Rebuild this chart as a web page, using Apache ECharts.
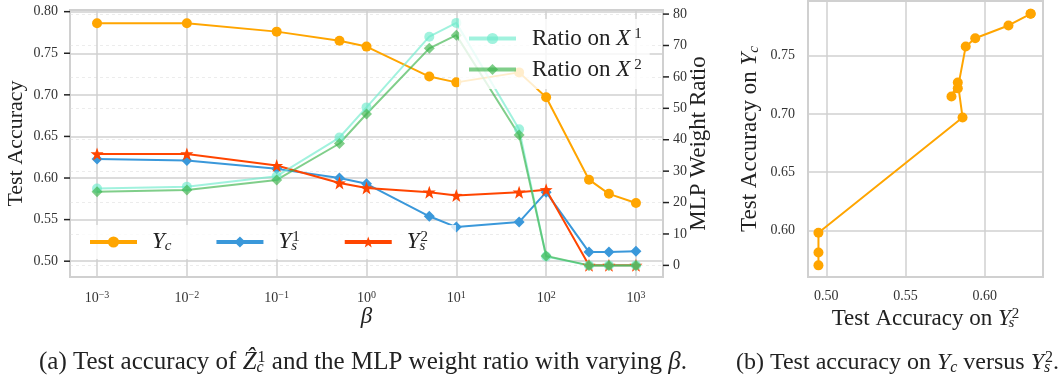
<!DOCTYPE html>
<html>
<head>
<meta charset="utf-8">
<script src="https://cdn.jsdelivr.net/npm/echarts@6/dist/echarts.min.js"></script>
<style>
  html, body { margin: 0; background: #fff; }
  #chart { width: 1062px; height: 388px; }
</style>
</head>
<body>
<div id="chart"></div>
<script>
const betas = [0.001, 0.01, 0.1, 0.5, 1, 5, 10, 50, 100, 300, 500, 1000]
const accYc = [0.786, 0.786, 0.776, 0.765, 0.758, 0.722, 0.715, 0.727, 0.697, 0.598, 0.581, 0.570]
const accYs1 = [0.623, 0.621, 0.611, 0.600, 0.593, 0.554, 0.541, 0.547, 0.583, 0.511, 0.511, 0.512]
const accYs2 = [0.629, 0.629, 0.615, 0.594, 0.588, 0.583, 0.579, 0.583, 0.586, 0.495, 0.495, 0.495]
const ratioX1 = [24.5, 25.0, 28.4, 40.7, 50.3, 72.8, 77.2, 43.3, 2.8, 0, 0, 0]
const ratioX2 = [23.4, 24.0, 27.2, 38.8, 48.2, 69.1, 73.3, 41.5, 3.0, 0, 0, 0]

// tick labels
const accTicks = [0.5, 0.55, 0.6, 0.65, 0.7, 0.75, 0.8]
const ratioTicks = [0, 10, 20, 30, 40, 50, 60, 70, 80]
const ysTicks = [0.5, 0.55, 0.6]
const ycTicks = [0.6, 0.65, 0.7, 0.75]

const SERIF = 'Liberation Serif'
const GRID = '#d0d0d0'
const BETA_MIN = 0.0005
const BETA_MAX = 2000

const chart = echarts.init(document.getElementById('chart'))

const pair = (xs, ys) => xs.map((x, i) => [x, ys[i]])

// math-ish rich text pieces
const mathRich = (big, small) => ({
  i: { fontFamily: SERIF, fontStyle: 'italic', fontSize: big, color: '#222' },
  sub: { fontFamily: SERIF, fontStyle: 'italic', fontSize: small, color: '#222', verticalAlign: 'bottom', padding: [small * 0.6, 0, 0, 0] },
  ss: { fontFamily: SERIF, fontStyle: 'italic', fontSize: small, color: '#222', verticalAlign: 'bottom', padding: [small * 0.6, 0, 0, 0], width: 1 },
  sup: { fontFamily: SERIF, fontSize: small, color: '#222', verticalAlign: 'top', padding: [0, 0, small * 0.5, 0] },
  t: { fontFamily: SERIF, fontSize: big, color: '#222' },
})

const legendNames = {
  'Y_c': '{i|Y}{sub|c}',
  'Y_s^1': '{i|Y}{ss|s}{sup|1}',
  'Y_s^2': '{i|Y}{ss|s}{sup|2}',
  'Ratio on X^1': '{t|Ratio on }{i|X}{sup| 1}',
  'Ratio on X^2': '{t|Ratio on }{i|X}{sup| 2}',
}

// tick dash carried inside the axis label, since plain axis ticks do not show up
const tickRich = {
  n: { fontFamily: SERIF, fontSize: 14, color: '#333' },
  gap: { width: 6, height: 2 },
  tk: { width: 6, height: 1.5, backgroundColor: '#222' },
}

const lineSeries = (name, data, yIdx, color, symbol, size) => ({
  name,
  type: 'line',
  xAxisIndex: 0,
  yAxisIndex: yIdx,
  data,
  symbol,
  symbolSize: size,
  lineStyle: { color, width: 2 },
  itemStyle: { color },
})

const option = {
  animation: false,
  textStyle: { fontFamily: SERIF },
  grid: [
    { left: 70, right: 399, top: 10, bottom: 111, show: true, borderColor: GRID, borderWidth: 2, outerBoundsMode: 'none', containLabel: false },
    { left: 808, right: 19, top: 1, bottom: 111, show: true, borderColor: GRID, borderWidth: 2, outerBoundsMode: 'none', containLabel: false },
  ],
  xAxis: [
    {
      type: 'log',
      gridIndex: 0,
      min: BETA_MIN,
      max: BETA_MAX,
      name: 'β',
      nameLocation: 'middle',
      nameGap: 28,
      nameMoveOverlap: false,
      nameTextStyle: { fontFamily: SERIF, fontStyle: 'italic', fontSize: 23, color: '#222' },
      axisLine: { show: false },
      axisTick: { show: false },
      splitLine: { show: true, lineStyle: { color: GRID, width: 1.5 } },
      axisLabel: {
        margin: 13,
        showMinLabel: false,
        showMaxLabel: false,
        formatter: (v) => {
          const e = Math.round(Math.log10(v))
          return '{b|10}{e|' + (e < 0 ? '−' : '') + Math.abs(e) + '}'
        },
        rich: {
          b: { fontFamily: SERIF, fontSize: 14, color: '#333' },
          e: { fontFamily: SERIF, fontSize: 10, color: '#333', verticalAlign: 'top', padding: [0, 0, 6, 0] },
        },
      },
    },
    {
      type: 'value',
      gridIndex: 1,
      min: 0.4884,
      max: 0.6368,
      name: 'Test Accuracy on {i|Y}{ss|s}{sup|2}',
      nameLocation: 'middle',
      nameGap: 30,
      nameMoveOverlap: false,
      nameTextStyle: { fontFamily: SERIF, fontSize: 23, color: '#222', rich: mathRich(23, 15) },
      axisLine: { show: false },
      axisTick: { show: false, customValues: ysTicks },
      splitLine: { show: true, lineStyle: { color: GRID, width: 1.5 } },
      axisLabel: {
        customValues: ysTicks,
        margin: 12,
        fontFamily: SERIF,
        fontSize: 14,
        color: '#333',
        formatter: (v) => v.toFixed(2),
      },
    },
  ],
  yAxis: [
    {
      type: 'value',
      gridIndex: 0,
      min: 0.481,
      max: 0.802,
      name: 'Test Accuracy',
      nameLocation: 'middle',
      nameGap: 43,
      nameMoveOverlap: false,
      nameTextStyle: { fontFamily: SERIF, fontSize: 22, color: '#222' },
      axisLine: { show: false },
      axisTick: { show: false, customValues: accTicks },
      splitLine: { show: true, lineStyle: { color: GRID, width: 1.5 } },
      axisLabel: {
        customValues: accTicks,
        margin: 0,
        formatter: (v) => '{n|' + v.toFixed(2) + '}{gap|}{tk|}',
        rich: tickRich,
      },
    },
    {
      type: 'value',
      gridIndex: 0,
      position: 'right',
      min: -3.7,
      max: 81.3,
      name: 'MLP Weight Ratio',
      nameLocation: 'middle',
      nameRotate: 90,
      nameGap: 24,
      nameMoveOverlap: false,
      nameTextStyle: { fontFamily: SERIF, fontSize: 23, color: '#222' },
      axisLine: { show: false },
      axisTick: { show: false, customValues: ratioTicks },
      splitLine: { show: true, lineStyle: { color: '#ececec', width: 1, type: [3, 3] } },
      axisLabel: {
        customValues: ratioTicks,
        margin: 0,
        formatter: (v) => '{tk|}{gap|}{n|' + v + '}',
        rich: Object.assign({}, tickRich, { gap: { width: 4, height: 2 } }),
      },
    },
    {
      type: 'value',
      gridIndex: 1,
      min: 0.56,
      max: 0.797,
      name: 'Test Accuracy on {i|Y}{sub|c}',
      nameLocation: 'middle',
      nameGap: 46,
      nameMoveOverlap: false,
      nameTextStyle: { fontFamily: SERIF, fontSize: 23, color: '#222', rich: mathRich(23, 15) },
      axisLine: { show: false },
      axisTick: { show: false, customValues: ycTicks },
      splitLine: { show: true, lineStyle: { color: GRID, width: 1.5 } },
      axisLabel: { customValues: ycTicks, margin: 13, fontFamily: SERIF, fontSize: 14, color: '#333', formatter: (v) => v.toFixed(2) },
    },
  ],
  legend: [
    {
      data: ['Y_c', 'Y_s^1', 'Y_s^2'],
      left: 80,
      top: 225,
      padding: [5, 28, 5, 8],
      itemWidth: 47,
      itemHeight: 14,
      itemGap: 43,
      backgroundColor: 'rgba(255,255,255,0.8)',
      lineStyle: { width: 4 },
      formatter: (n) => legendNames[n],
      textStyle: { padding: [0, 0, 0, 10], rich: mathRich(23, 15) },
    },
    {
      data: ['Ratio on X^1', 'Ratio on X^2'],
      orient: 'vertical',
      left: 459,
      top: 19,
      padding: [8, 8, 8, 8],
      itemWidth: 47,
      itemHeight: 14,
      itemGap: 8,
      backgroundColor: 'rgba(255,255,255,0.8)',
      lineStyle: { width: 4 },
      formatter: (n) => legendNames[n],
      textStyle: { padding: [0, 0, 0, 11], rich: mathRich(23, 15) },
    },
  ],
  series: [
    lineSeries('Y_c', pair(betas, accYc), 0, '#FFA500', 'circle', 10),
    lineSeries('Y_s^1', pair(betas, accYs1), 0, '#3A98DA', 'diamond', 11),
    lineSeries('Y_s^2', pair(betas, accYs2), 0, '#FF4500', 'path://M0,-10L2.35,-3.24L9.51,-3.09L3.8,1.24L5.88,8.09L0,4L-5.88,8.09L-3.8,1.24L-9.51,-3.09L-2.35,-3.24Z', 13),
    lineSeries('Ratio on X^1', pair(betas, ratioX1), 1, 'rgba(110,235,205,0.65)', 'circle', 10),
    lineSeries('Ratio on X^2', pair(betas, ratioX2), 1, 'rgba(60,180,75,0.65)', 'diamond', 11),
    {
      name: 'Yc vs Ys2',
      type: 'line',
      xAxisIndex: 1,
      yAxisIndex: 2,
      data: pair(accYs2, accYc),
      symbol: 'circle',
      symbolSize: 10,
      lineStyle: { color: '#FFA500', width: 2 },
      itemStyle: { color: '#FFA500' },
    },
  ],
  graphic: [
    {
      type: 'text',
      left: 39,
      top: 350,
      style: {
        text: '(a) Test accuracy of {i|Ẑ}{ss|c}{sup|1} and the MLP weight ratio with varying {i|β}.',
        fontFamily: SERIF,
        fontSize: 25,
        fill: '#222',
        rich: mathRich(25, 16),
      },
    },
    {
      type: 'text',
      left: 736,
      top: 350,
      style: {
        text: '(b) Test accuracy on {i|Y}{sub|c} versus {i|Y}{ss|s}{sup|2}.',
        fontFamily: SERIF,
        fontSize: 24,
        fill: '#222',
        rich: mathRich(24, 16),
      },
    },
  ],
}

chart.setOption(option)
</script>
</body>
</html>
